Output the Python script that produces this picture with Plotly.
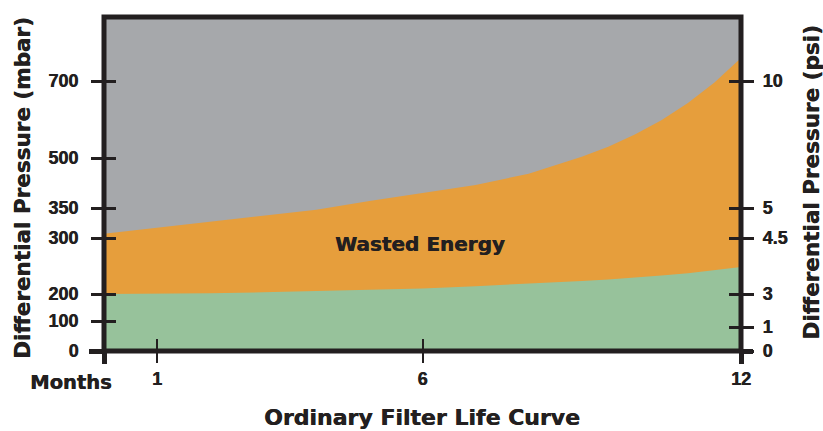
import numpy as np
import plotly.graph_objects as go

# ---------------- data ----------------
months = [0, 1, 2, 3, 4, 5, 6, 7, 8, 9, 9.5, 10, 10.5, 11, 11.5, 11.75, 12]
# top of the green area: clean-filter differential pressure (mbar)
system_pressure_mbar = [200, 200.5, 201.5, 203, 205, 207.5, 210, 214, 218, 223, 226, 229, 233, 237, 242, 245, 248]
# top of the orange area: actual differential pressure over filter life (mbar)
total_pressure_mbar = [307, 317, 327, 336, 347, 371, 394, 419, 453, 503, 529, 561, 598, 643, 696, 727, 760]

mbar_ticks = [0, 100, 200, 300, 350, 500, 700]
psi_ticks = [0, 1, 3, 4.5, 5, 10]
month_ticks = [1, 6, 12]

# schematic (non-linear) pressure scale: display height of each labelled value
mbar_scale = [0, 30, 57, 113, 143, 193, 270]
psi_scale = [0, 24, 57, 113, 143, 270]
Y_TOP = 334


def to_display(values):
    v = np.asarray(values, dtype=float)
    out = np.interp(v, mbar_ticks, mbar_scale)
    slope = (mbar_scale[-1] - mbar_scale[-2]) / (mbar_ticks[-1] - mbar_ticks[-2])
    hi = v > mbar_ticks[-1]
    out[hi] = mbar_scale[-1] + (v[hi] - mbar_ticks[-1]) * slope
    return out


INK = "#231f20"
GRAY = "#a6a8ab"
ORANGE = "#e69e3c"
GREEN = "#97c29b"
HEAVY = "0.5px 0px 0px #231f20"
TICK_FONT = dict(family="Liberation Sans", size=18, color=INK, weight="bold", shadow=HEAVY)
TITLE_FONT = dict(family="DejaVu Sans", size=21.5, color=INK, weight="bold", shadow=HEAVY)

total_disp = to_display(total_pressure_mbar)
system_disp = to_display(system_pressure_mbar)

fig = go.Figure()
fig.add_trace(go.Scatter(x=months, y=total_disp, mode="lines", line=dict(width=0),
                         fill="tozeroy", fillcolor=ORANGE, hoverinfo="skip", showlegend=False))
fig.add_trace(go.Scatter(x=months, y=system_disp, mode="lines", line=dict(width=0),
                         fill="tozeroy", fillcolor=GREEN, hoverinfo="skip", showlegend=False))
# invisible copies so that the extra tick axes get drawn
for xa, ya in [("x2", "y"), ("x3", "y"), ("x", "y2"), ("x", "y3"), ("x", "y4"), ("x", "y5"), ("x", "y6")]:
    fig.add_trace(go.Scatter(x=months, y=system_disp, mode="none", xaxis=xa, yaxis=ya,
                             hoverinfo="skip", showlegend=False))

common = dict(showgrid=False, zeroline=False, showline=False, tickcolor=INK)
xr = [0, 12]
yr = [0, Y_TOP]

fig.update_layout(
    width=823, height=431,
    margin=dict(l=104, r=82, t=17, b=80),
    paper_bgcolor="white", plot_bgcolor=GRAY,
    xaxis=dict(range=xr, tickvals=month_ticks, ticktext=[str(m) for m in month_ticks],
               ticks="outside", ticklen=11, tickwidth=2, tickfont=TICK_FONT, **common),
    xaxis2=dict(range=xr, overlaying="x", anchor="y", side="bottom", tickvals=month_ticks[:2],
                ticks="inside", ticklen=12, tickwidth=2, showticklabels=False, **common),
    xaxis3=dict(range=xr, overlaying="x", anchor="y", side="bottom", tickvals=[0, 12],
                ticks="outside", ticklen=12, tickwidth=5, showticklabels=False, **common),
    yaxis=dict(range=yr, side="left", tickvals=mbar_scale, ticktext=[str(t) for t in mbar_ticks],
               ticks="outside", ticklen=12, tickwidth=3, tickfont=TICK_FONT,
               ticklabelstandoff=9, **common),
    yaxis2=dict(range=yr, overlaying="y", anchor="x", side="left", tickvals=mbar_scale[1:],
                ticks="inside", ticklen=12, tickwidth=3, showticklabels=False, **common),
    yaxis3=dict(range=yr, overlaying="y", anchor="x", side="right", tickvals=psi_scale,
                ticktext=[str(t) for t in psi_ticks], ticks="outside", ticklen=12, tickwidth=3,
                tickfont=TICK_FONT, ticklabelstandoff=5, **common),
    yaxis4=dict(range=yr, overlaying="y", anchor="x", side="right", tickvals=psi_scale[1:],
                ticks="inside", ticklen=12, tickwidth=3, showticklabels=False, **common),
    yaxis5=dict(range=yr, overlaying="y", anchor="x", side="left", tickvals=[0],
                ticks="outside", ticklen=14, tickwidth=5, showticklabels=False, **common),
    yaxis6=dict(range=yr, overlaying="y", anchor="x", side="right", tickvals=[0],
                ticks="outside", ticklen=11, tickwidth=5, showticklabels=False, **common),
    shapes=[dict(type="rect", xref="paper", yref="paper", x0=0, x1=1, y0=0, y1=1,
                 line=dict(color=INK, width=5), layer="above")],
)

fig.add_annotation(text="Wasted Energy", x=5.95, y=0.32, xref="x", yref="paper",
                   xanchor="center", yanchor="middle", showarrow=False,
                   font=dict(family="DejaVu Sans", size=20, color=INK, weight="bold", shadow=HEAVY))
fig.add_annotation(text="Differential Pressure (mbar)", x=-0.1287, y=0.488, xref="paper", yref="paper",
                   textangle=-90, showarrow=False, font=TITLE_FONT, xanchor="center", yanchor="middle")
fig.add_annotation(text="Differential Pressure (psi)", x=1.111, y=0.503, xref="paper", yref="paper",
                   textangle=-90, showarrow=False, font=TITLE_FONT, xanchor="center", yanchor="middle")
fig.add_annotation(text="Months", x=-0.052, y=-0.093, xref="paper", yref="paper",
                   showarrow=False,
                   font=dict(family="DejaVu Sans", size=19.5, color=INK, weight="bold", shadow=HEAVY),
                   xanchor="center", yanchor="middle")
fig.add_annotation(text="Ordinary Filter Life Curve", x=0.499, y=-0.2, xref="paper", yref="paper",
                   showarrow=False,
                   font=dict(family="DejaVu Sans", size=22, color=INK, weight="bold", shadow=HEAVY),
                   xanchor="center", yanchor="middle")

fig.write_html("out.html", config={"displayModeBar": False},
               post_script="document.body.style.margin='0px';")
